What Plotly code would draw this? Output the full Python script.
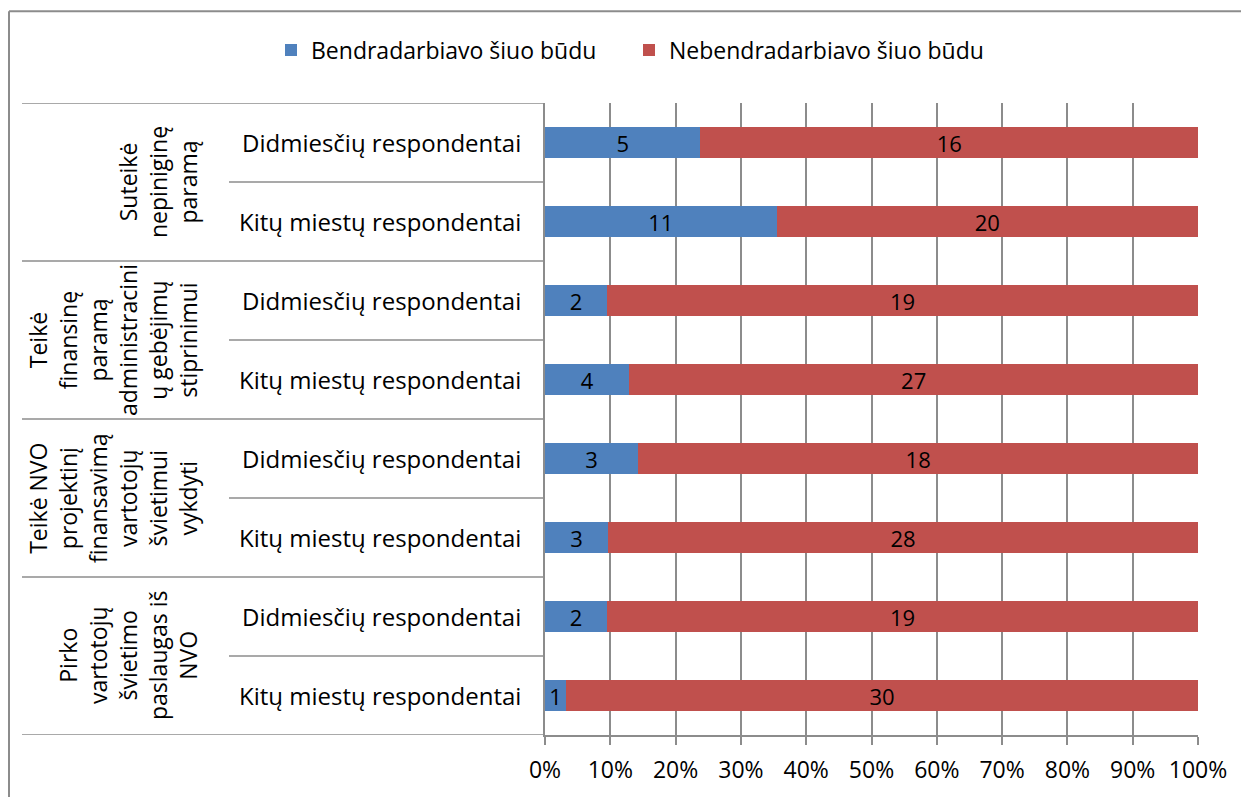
import plotly.graph_objects as go

# ---- data ----
groups = [
    "Suteikė<br>nepiniginę<br>paramą",
    "Teikė<br>finansinę<br>paramą<br>administracini<br>ų gebėjimų<br>stiprinimui",
    "Teikė NVO<br>projektinį<br>finansavimą<br>vartotojų<br>švietimui<br>vykdyti",
    "Pirko<br>vartotojų<br>švietimo<br>paslaugas iš<br>NVO",
]
subcats = ["Didmiesčių respondentai", "Kitų miestų respondentai"]
series_names = ["Bendradarbiavo šiuo būdu", "Nebendradarbiavo šiuo būdu"]
coop = [5, 11, 2, 4, 3, 3, 2, 1]
noncoop = [16, 20, 19, 27, 18, 28, 19, 30]
x_ticks = [0, 10, 20, 30, 40, 50, 60, 70, 80, 90, 100]

colors = ["#4F81BD", "#C0504D"]
FONT = "Open Sans"
FS = 24
GRAY = "#8C8C8C"

# page geometry (body has 8px margin)
OFF = 8
SW, SH = 1249, 797
W, H = SW - OFF, SH - OFF
# plot area in screen pixels
L, R, T, B = 545, 1198, 103, 737
pw, ph = R - L, B - T

rows = list(range(len(coop)))
row_labels = [subcats[i % 2] for i in rows]
legend_ids = ["legend", "legend2"]
legend_left_px = [271, 629]

fig = go.Figure()
for name, vals, col, lg in zip(series_names, [coop, noncoop], colors, legend_ids):
    fig.add_trace(go.Bar(
        y=rows, x=vals, orientation="h", name=name, legend=lg,
        marker=dict(color=col, line=dict(width=0)),
        text=[str(v) for v in vals], textposition="inside",
        insidetextanchor="middle", textangle=0, constraintext="none",
        textfont=dict(family=FONT, size=FS - 2, color="black"),
    ))

def px_x(p):
    return (p - L) / pw

def px_y(p):
    return (B - p) / ph

shapes = []
n = len(rows)
for g in range(len(groups) + 1):
    yv = 2 * g - 0.5
    shapes.append(dict(type="line", xref="paper", yref="y", x0=px_x(22), x1=0,
                       y0=yv, y1=yv, line=dict(color=GRAY, width=1.5), layer="above"))
for g in range(len(groups)):
    yv = 2 * g + 0.5
    shapes.append(dict(type="line", xref="paper", yref="y", x0=px_x(229), x1=0,
                       y0=yv, y1=yv, line=dict(color=GRAY, width=1.5), layer="above"))
# outer chart frame (top + left)
shapes.append(dict(type="line", xref="paper", yref="paper", x0=px_x(9), x1=px_x(SW + 5),
                   y0=px_y(11), y1=px_y(11), line=dict(color=GRAY, width=2)))
shapes.append(dict(type="line", xref="paper", yref="paper", x0=px_x(9), x1=px_x(9),
                   y0=px_y(11), y1=px_y(SH + 5), line=dict(color=GRAY, width=2)))

annotations = []
for i, lab in zip(rows, row_labels):
    annotations.append(dict(xref="paper", yref="y", x=0, y=i, xshift=-22,
                            xanchor="right", yanchor="middle", text=lab, showarrow=False,
                            font=dict(family=FONT, size=FS, color="black")))
for g, lab in enumerate(groups):
    annotations.append(dict(xref="paper", yref="y", x=px_x(206), y=2 * g + 0.5,
                            xanchor="right", yanchor="middle", text=lab, showarrow=False,
                            textangle=-90, align="center",
                            font=dict(family=FONT, size=FS - 1, color="black")))

legend_common = dict(orientation="h", xref="container", yref="container",
                     y=1 - (50 - OFF) / H, xanchor="left", yanchor="middle",
                     font=dict(family=FONT, size=FS - 1), itemwidth=30)

fig.update_layout(
    width=W, height=H,
    margin=dict(l=L - OFF, r=SW - R, t=T - OFF, b=SH - B, pad=0),
    barmode="stack", barnorm="percent", bargap=0.6,
    plot_bgcolor="white", paper_bgcolor="white",
    font=dict(family=FONT, size=FS, color="black"),
    legend=dict(x=(legend_left_px[0] - OFF) / W, **legend_common),
    legend2=dict(x=(legend_left_px[1] - OFF) / W, **legend_common),
    xaxis=dict(range=[0, 100], tickvals=x_ticks, ticktext=[f"{v}%" for v in x_ticks],
               showgrid=True, gridcolor=GRAY, gridwidth=1.5,
               showline=True, linecolor=GRAY, linewidth=1.5,
               ticks="outside", ticklen=8, tickcolor=GRAY, tickwidth=1.5,
               ticklabelstandoff=6,
               tickfont=dict(family=FONT, size=FS - 1), zeroline=False, fixedrange=True),
    yaxis=dict(range=[n - 0.5, -0.5], showticklabels=False, showgrid=False,
               showline=True, linecolor=GRAY, linewidth=1.5, zeroline=False,
               ticks="", fixedrange=True),
    shapes=shapes, annotations=annotations,
    showlegend=True,
)

fig.write_html("out.html")
